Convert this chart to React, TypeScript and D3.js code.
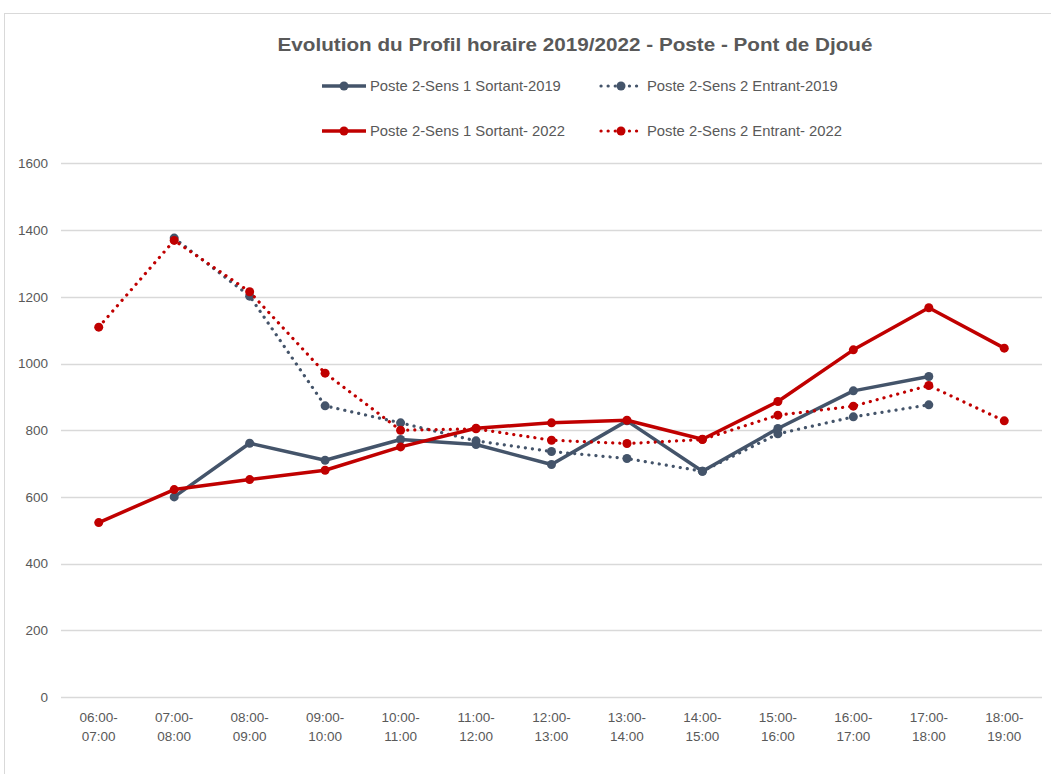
import React, { useEffect, useRef } from "react";
import * as d3 from "d3";

const categories = [
  "06:00-07:00", "07:00-08:00", "08:00-09:00", "09:00-10:00", "10:00-11:00",
  "11:00-12:00", "12:00-13:00", "13:00-14:00", "14:00-15:00", "15:00-16:00",
  "16:00-17:00", "17:00-18:00", "18:00-19:00",
];

// values (null = no point)
const sortant2019 = [null, 600, 761, 710, 772, 757, 697, 828, 677, 805, 918, 961, null];
const entrant2019 = [null, 1376, 1202, 873, 822, 768, 736, 715, 677, 789, 840, 876, null];
const sortant2022 = [523, 622, 652, 680, 750, 806, 822, 830, 773, 886, 1041, 1167, 1046];
const entrant2022 = [1109, 1369, 1215, 971, 800, 804, 770, 760, 772, 845, 872, 934, 828];

const yTicks = [0, 200, 400, 600, 800, 1000, 1200, 1400, 1600];

const seriesNames = [
  "Poste 2-Sens 1 Sortant-2019",
  "Poste 2-Sens 2 Entrant-2019",
  "Poste 2-Sens 1 Sortant- 2022",
  "Poste 2-Sens 2 Entrant- 2022",
];

const title = "Evolution du Profil horaire 2019/2022 - Poste - Pont de Djoué";

const GRAY = "#44546A";
const RED = "#C00000";
const TEXT = "#595959";
const GRID = "#D9D9D9";
const FONT = "'Liberation Sans', Arial, sans-serif";

export default function App() {
  const ref = useRef<SVGSVGElement>(null);

  useEffect(() => {
    const width = 1051;
    const height = 774;
    const svg = d3.select(ref.current as SVGSVGElement);
    svg.selectAll("*").remove();

    const x = d3.scaleBand().domain(categories).range([61, 1042]); // category bands
    const y = d3.scaleLinear().domain([0, 1600]).range([697, 163.4]);
    const cx = (c: string) => (x(c) as number) + x.bandwidth() / 2;

    svg.append("rect").attr("width", width).attr("height", height).attr("fill", "#fff");

    // chart frame (runs off the picture at right and bottom)
    svg
      .append("rect")
      .attr("x", 4.5)
      .attr("y", 13.5)
      .attr("width", 1100)
      .attr("height", 800)
      .attr("fill", "none")
      .attr("stroke", GRID);

    svg
      .append("text")
      .attr("x", 575)
      .attr("y", 51)
      .attr("text-anchor", "middle")
      .attr("fill", TEXT)
      .attr("textLength", 595)
      .attr("lengthAdjust", "spacingAndGlyphs")
      .style("font-family", FONT)
      .style("font-weight", "bold")
      .style("font-size", "18px")
      .text(title);

    // grid + y axis labels
    const grid = svg.append("g");
    grid
      .selectAll("line")
      .data(yTicks)
      .join("line")
      .attr("x1", 61)
      .attr("x2", 1042)
      .attr("y1", (d) => Math.round(y(d)) + 0.5)
      .attr("y2", (d) => Math.round(y(d)) + 0.5)
      .attr("stroke", GRID)
      .attr("stroke-width", 1.3);
    grid
      .selectAll("text")
      .data(yTicks)
      .join("text")
      .attr("x", 48)
      .attr("y", (d) => y(d))
      .attr("dy", "0.35em")
      .attr("text-anchor", "end")
      .attr("fill", TEXT)
      .style("font-family", FONT)
      .style("font-size", "13.5px")
      .text((d) => d);

    // x labels on two lines
    const xl = svg
      .append("g")
      .selectAll("text")
      .data(categories)
      .join("text")
      .attr("text-anchor", "middle")
      .attr("fill", TEXT)
      .style("font-family", FONT)
      .style("font-size", "13.5px");
    xl.append("tspan")
      .attr("x", (d) => cx(d))
      .attr("y", 722)
      .text((d) => d.split("-")[0] + "-");
    xl.append("tspan")
      .attr("x", (d) => cx(d))
      .attr("y", 741)
      .text((d) => d.split("-")[1]);

    const series = [
      { values: sortant2019, color: GRAY, dotted: false },
      { values: entrant2019, color: GRAY, dotted: true },
      { values: sortant2022, color: RED, dotted: false },
      { values: entrant2022, color: RED, dotted: true },
    ];

    const line = d3
      .line<number | null>()
      .defined((d) => d !== null)
      .x((_, i) => cx(categories[i]))
      .y((d) => y(d as number));

    series.forEach((s) => {
      const g = svg.append("g");
      g.append("path")
        .attr("d", line(s.values))
        .attr("fill", "none")
        .attr("stroke", s.color)
        .attr("stroke-width", s.dotted ? 3.2 : 3.5)
        .attr("stroke-linecap", "round")
        .attr("stroke-linejoin", "round")
        .attr("stroke-dasharray", s.dotted ? "0.1 7" : null);
      g.selectAll("circle")
        .data(s.values.map((v, i) => ({ v, i })).filter((d) => d.v !== null))
        .join("circle")
        .attr("cx", (d) => cx(categories[d.i]))
        .attr("cy", (d) => y(d.v as number))
        .attr("r", 4.5)
        .attr("fill", s.color);
    });

    // legend
    const legendPos = [
      { lx: 322, ty: 86 },
      { lx: 599, ty: 86 },
      { lx: 322, ty: 131 },
      { lx: 599, ty: 131 },
    ];
    series.forEach((s, i) => {
      const p = legendPos[i];
      const g = svg.append("g");
      g.append("line")
        .attr("x1", p.lx + (s.dotted ? 2 : 0))
        .attr("x2", p.lx + 44)
        .attr("y1", p.ty)
        .attr("y2", p.ty)
        .attr("stroke", s.color)
        .attr("stroke-width", s.dotted ? 3.2 : 3.5)
        .attr("stroke-linecap", s.dotted ? "round" : "butt")
        .attr("stroke-dasharray", s.dotted ? "0.1 7" : null);
      g.append("circle")
        .attr("cx", p.lx + 22)
        .attr("cy", p.ty)
        .attr("r", 4.5)
        .attr("fill", s.color);
      g.append("text")
        .attr("x", p.lx + 48)
        .attr("y", p.ty)
        .attr("dy", "0.35em")
        .attr("fill", TEXT)
        .style("font-family", FONT)
        .style("font-size", "14.8px")
        .text(seriesNames[i]);
    });
  }, []);

  return (
    <svg
      ref={ref}
      width={1051}
      height={774}
      style={{ position: "absolute", left: 0, top: 0, display: "block" }}
    />
  );
}
